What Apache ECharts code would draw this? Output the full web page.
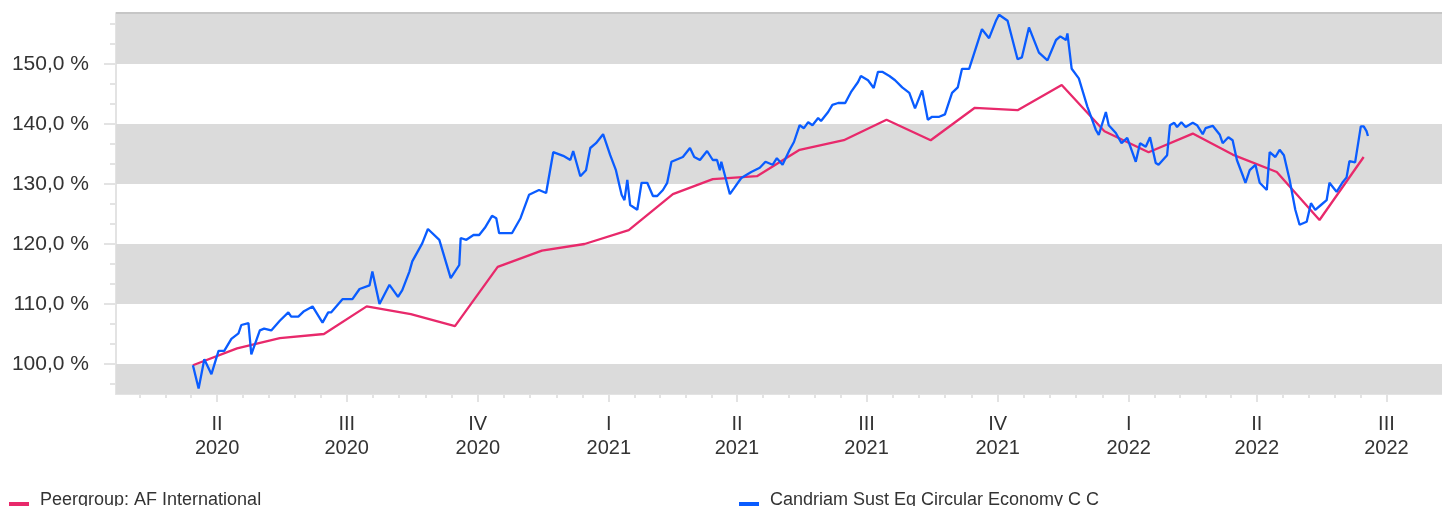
<!DOCTYPE html>
<html>
<head>
<meta charset="utf-8">
<script src="https://cdn.jsdelivr.net/npm/echarts@6/dist/echarts.min.js"></script>
<style>
  html, body { margin: 0; padding: 0; background: #fff; }
  #chart { width: 1442px; height: 506px; }
</style>
</head>
<body>
<div id="chart"></div>
<script>
const peerName = 'Peergroup: AF International'
const fundName = 'Candriam Sust Eq Circular Economy C C'

// peer group, monthly points
const peerDates = [
  '2020-03-15', '2020-04-15', '2020-05-15', '2020-06-15', '2020-07-15', '2020-08-15',
  '2020-09-15', '2020-10-15', '2020-11-15', '2020-12-15', '2021-01-15', '2021-02-15',
  '2021-03-15', '2021-04-15', '2021-05-15', '2021-06-15', '2021-07-15', '2021-08-15',
  '2021-09-15', '2021-10-15', '2021-11-15', '2021-12-15', '2022-01-15', '2022-02-15',
  '2022-03-15', '2022-04-15', '2022-05-15', '2022-06-15'
]
const peerValues = [
  99.8, 102.6, 104.3, 105.0, 109.6, 108.3,
  106.3, 116.2, 118.9, 120.0, 122.3, 128.3,
  130.8, 131.3, 135.7, 137.3, 140.7, 137.3,
  142.7, 142.3, 146.5, 138.8, 135.3, 138.4,
  134.9, 132.0, 124.0, 134.5
]

// fund, days counted from fundStart
const fundStart = '2020-03-15'
const fundDays = [
  0, 4, 8, 13, 18, 22, 27, 32, 34, 39, 41, 47, 50, 55, 61, 67, 69, 74, 78, 84,
  91, 95, 97, 105, 112, 117, 124, 126, 131, 138, 144, 147, 152, 154, 155, 161, 165, 173, 181, 187,
  188, 192, 197, 201, 205, 210, 213, 215, 224, 230, 236, 243, 248, 253, 260, 265, 267, 272, 276, 279,
  283, 288, 293, 297, 301, 303, 305, 307, 312, 315, 319, 323, 326, 330, 333, 336, 344, 349, 352, 356,
  361, 365, 368, 370, 371, 377, 380, 385, 392, 398, 402, 407, 410, 414, 419, 422, 426, 429, 432, 435,
  439, 441, 446, 449, 453, 458, 462, 467, 469, 474, 478, 481, 484, 489, 493, 498, 503, 507, 512, 516,
  519, 524, 528, 533, 537, 540, 545, 554, 559, 564, 566, 572, 579, 582, 587, 594, 600, 606, 609, 613,
  614, 617, 622, 628, 634, 636, 641, 643, 648, 652, 656, 659, 662, 665, 669, 672, 676, 678, 681, 684,
  686, 689, 691, 694, 697, 702, 705, 709, 711, 716, 721, 723, 727, 730, 733, 737, 739, 742, 746, 749,
  754, 756, 760, 763, 766, 770, 774, 777, 782, 785, 788, 792, 796, 798, 801, 803, 807, 810, 812, 816,
  820, 822, 824, 825
]
const fundValues = [
  99.8, 95.9, 100.8, 98.3, 102.2, 102.2, 104.2, 105.1, 106.5, 106.8, 101.6, 105.6, 105.9, 105.6, 107.2, 108.6, 107.9, 107.9, 108.8, 109.6,
  106.9, 108.6, 108.6, 110.8, 110.8, 112.5, 113.1, 115.4, 110.0, 113.2, 111.2, 112.3, 115.4, 117.1, 117.1, 120.1, 122.5, 120.7, 114.3, 116.5,
  121.0, 120.7, 121.5, 121.5, 122.7, 124.7, 124.3, 121.8, 121.8, 124.3, 128.2, 129.0, 128.5, 135.3, 134.7, 134.0, 135.5, 131.3, 132.3, 136.0,
  136.8, 138.3, 134.8, 132.3, 128.2, 127.3, 130.7, 126.5, 125.7, 130.2, 130.2, 128.0, 128.0, 129.0, 130.2, 133.7, 134.5, 136.0, 134.5, 134.0,
  135.5, 134.0, 134.0, 132.3, 133.7, 128.3, 129.3, 131.0, 132.0, 132.7, 133.7, 133.2, 134.3, 133.2, 135.7, 137.0, 139.8, 139.3, 140.3, 139.8,
  141.0, 140.5, 142.0, 143.2, 143.5, 143.5, 145.3, 147.0, 148.0, 147.3, 146.0, 148.7, 148.7, 148.0, 147.3, 146.1, 145.2, 142.6, 145.6, 140.7,
  141.2, 141.2, 141.6, 145.2, 146.1, 149.2, 149.2, 155.8, 154.3, 157.3, 158.2, 157.2, 150.8, 151.1, 156.1, 151.9, 150.6, 154.0, 154.6, 154.0,
  155.1, 149.2, 147.6, 142.9, 139.0, 138.2, 142.0, 139.8, 138.5, 136.8, 137.7, 135.7, 133.7, 136.8, 136.2, 137.8, 133.5, 133.2, 134.0, 134.8,
  139.8, 140.2, 139.5, 140.3, 139.5, 140.2, 139.8, 138.3, 139.3, 139.7, 138.2, 136.8, 137.8, 137.3, 134.0, 131.5, 130.2, 132.3, 133.2, 130.2,
  129.0, 135.3, 134.5, 135.7, 134.8, 130.7, 125.7, 123.2, 123.7, 126.8, 125.7, 126.5, 127.3, 130.2, 129.3, 128.7, 130.2, 131.1, 133.8, 133.6,
  139.6, 139.6, 138.8, 138.0
]

// quarter boundaries (first one only carries minor ticks)
const quarterStarts = [
  '2020-01-01', '2020-04-01', '2020-07-01', '2020-10-01', '2021-01-01', '2021-04-01',
  '2021-07-01', '2021-10-01', '2022-01-01', '2022-04-01', '2022-07-01'
]
const quarterLabels = [
  '', 'II\n2020', 'III\n2020', 'IV\n2020', 'I\n2021', 'II\n2021',
  'III\n2021', 'IV\n2021', 'I\n2022', 'II\n2022', 'III\n2022'
]
const yLabelValues = [100, 110, 120, 130, 140, 150]
const grayBands = [[95, 100], [110, 120], [130, 140], [150, 158.5]]

const xMin = Date.parse('2020-01-21')
const xMax = Date.parse('2022-08-09')
const yMin = 95
const yMax = 158.5

const FONT = '"Liberation Sans", Arial, sans-serif'
const DAY = 86400000

const t0 = Date.parse(fundStart)
const fundData = fundDays.map((d, i) => [t0 + d * DAY, fundValues[i]])
const peerData = peerDates.map((d, i) => [Date.parse(d), peerValues[i]])

const qTimes = quarterStarts.map(d => Date.parse(d))
const majorTicks = qTimes.slice(1)
const minorTicks = []
for (let i = 0; i < qTimes.length - 1; i++) {
  const step = (qTimes[i + 1] - qTimes[i]) / 5
  for (let k = 1; k < 5; k++) {
    const t = qTimes[i] + k * step
    if (t > xMin && t < xMax) minorTicks.push(t)
  }
}
const labelFor = {}
qTimes.forEach((t, i) => { labelFor[t] = quarterLabels[i] })

const yMinor = []
for (let v = 90; v < yMax; v += 10) {
  for (let k = 1; k < 3; k++) {
    const m = v + k * 10 / 3
    if (m > yMin && m < yMax) yMinor.push(m)
  }
}

const chart = echarts.init(document.getElementById('chart'), null, { renderer: 'canvas' })

const axisGray = '#e3e3e3'

// the reference puts the colour key a bit lower than the text,
// so icons and texts are two separate legends
const legendBase = {
  itemWidth: 20,
  itemHeight: 8,
  padding: 0,
  selectedMode: false,
  textStyle: { fontSize: 18, color: '#333', fontFamily: FONT, lineHeight: 18, padding: [0, 0, 18, 6] }
}
const iconLegend = Object.assign({}, legendBase, { icon: 'rect', top: 497, formatter: () => '' })
const textLegend = Object.assign({}, legendBase, { icon: 'none', top: 482 })

chart.setOption({
  animation: false,
  grid: { left: 116, right: 0, top: 13, bottom: 112, containLabel: false },
  legend: [
    Object.assign({}, iconLegend, { data: [peerName], left: 9 }),
    Object.assign({}, iconLegend, { data: [fundName], left: 739 }),
    Object.assign({}, textLegend, { data: [peerName], left: 9 }),
    Object.assign({}, textLegend, { data: [fundName], left: 739 })
  ],
  xAxis: [
    {
      type: 'value',
      min: xMin,
      max: xMax,
      axisLine: { show: true, lineStyle: { color: axisGray, width: 2 } },
      axisTick: { show: true, length: 8, lineStyle: { color: axisGray, width: 2 }, customValues: majorTicks },
      axisLabel: {
        customValues: majorTicks,
        formatter: v => labelFor[v] || '',
        fontSize: 20,
        lineHeight: 24,
        color: '#333',
        fontFamily: FONT,
        margin: 18
      },
      splitLine: { show: false }
    },
    {
      type: 'value',
      position: 'bottom',
      min: xMin,
      max: xMax,
      axisLine: { show: false },
      axisTick: { show: true, length: 4, lineStyle: { color: axisGray, width: 2 }, customValues: minorTicks },
      axisLabel: { show: false },
      splitLine: { show: false }
    }
  ],
  yAxis: [
    {
      type: 'value',
      min: yMin,
      max: yMax,
      axisLine: { show: true, lineStyle: { color: axisGray, width: 2 } },
      axisTick: { show: true, length: 12, lineStyle: { color: axisGray, width: 2 }, customValues: yLabelValues },
      axisLabel: {
        customValues: yLabelValues,
        formatter: v => v.toFixed(1).replace('.', ',') + ' %',
        fontSize: 21,
        color: '#333',
        fontFamily: FONT,
        margin: 27
      },
      splitLine: { show: false }
    },
    {
      type: 'value',
      position: 'left',
      min: yMin,
      max: yMax,
      axisLine: { show: false },
      axisTick: { show: true, length: 6, lineStyle: { color: axisGray, width: 2 }, customValues: yMinor },
      axisLabel: { show: false },
      splitLine: { show: false }
    }
  ],
  series: [
    {
      type: 'line',
      data: [],
      silent: true,
      z: 1,
      markArea: {
        silent: true,
        itemStyle: { color: '#dbdbdb' },
        data: grayBands.map(b => [{ yAxis: b[0] }, { yAxis: b[1] }])
      },
      markLine: {
        silent: true,
        symbol: 'none',
        label: { show: false },
        lineStyle: { color: '#c6c6c6', width: 2, type: 'solid' },
        data: [{ yAxis: yMax }]
      }
    },
    {
      name: peerName,
      type: 'line',
      data: peerData,
      showSymbol: false,
      z: 3,
      lineStyle: { color: '#e8296b', width: 2.3 },
      itemStyle: { color: '#e8296b' }
    },
    {
      name: fundName,
      type: 'line',
      data: fundData,
      showSymbol: false,
      z: 4,
      lineStyle: { color: '#0a5cff', width: 2.3 },
      itemStyle: { color: '#0a5cff' }
    }
  ]
})
</script>
</body>
</html>
